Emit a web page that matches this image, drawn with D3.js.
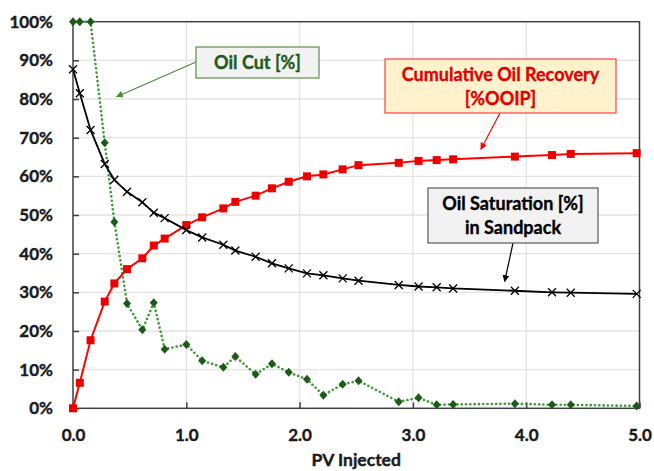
<!DOCTYPE html>
<html>
<head>
<meta charset="utf-8">
<script src="https://cdn.jsdelivr.net/npm/d3@7"></script>
<style>
  html, body { margin: 0; padding: 0; background: #fff; }
  svg { display: block; }
</style>
</head>
<body>
<div id="chart"></div>
<script>
// Oil cut, recovery and saturation vs pore volumes injected

const pvInjected = [0, 0.06, 0.155, 0.28, 0.365, 0.477, 0.612, 0.713, 0.809, 1.0, 1.14, 1.327, 1.433, 1.612,
  1.756, 1.904, 2.065, 2.21, 2.38, 2.52, 2.875, 3.05, 3.21, 3.355, 3.9, 4.228, 4.393, 4.975];
const oilSaturation = [87.7, 81.5, 72.0, 63.2, 59.1, 56.0, 53.3, 50.6, 49.2, 46.1, 44.2, 42.3, 40.8, 39.2,
  37.5, 36.2, 34.9, 34.4, 33.6, 33.0, 31.9, 31.5, 31.3, 31.0, 30.4, 30.0, 29.9, 29.6];
const cumRecovery = [0, 6.6, 17.6, 27.6, 32.3, 36.0, 38.8, 42.1, 43.9, 47.4, 49.4, 51.7, 53.4, 55.0,
  56.9, 58.6, 60.0, 60.5, 61.8, 62.9, 63.5, 64.0, 64.2, 64.4, 65.1, 65.5, 65.8, 66.0];
const oilCut = [100, 100, 100, 68.7, 48.2, 27.1, 20.3, 27.3, 15.3, 16.5, 12.3, 10.6, 13.4, 8.8,
  11.5, 9.3, 7.5, 3.4, 6.2, 7.1, 1.7, 2.7, 0.9, 1.0, 1.2, 0.9, 0.9, 0.6];

const xTicks = [0, 1, 2, 3, 4, 5];
const yTicks = [0, 10, 20, 30, 40, 50, 60, 70, 80, 90, 100];
const xTitle = "PV Injected";

const oilCutLabel = ["Oil Cut [%]"];
const recoveryLabel = ["Cumulative Oil Recovery", "[%OOIP]"];
const saturationLabel = ["Oil Saturation [%]", "in Sandpack"];

const W = 654, H = 471;
const FONT = "Lato, 'Open Sans', sans-serif";

const svg = d3.select("#chart").append("svg")
  .attr("width", W)
  .attr("height", H)
  .style("background", "#fff");

const x = d3.scaleLinear().domain([0, 5]).range([73, 639.5]);
const y = d3.scaleLinear().domain([0, 100]).range([408.3, 21.7]);

// grid
svg.append("g")
  .selectAll("line.gx")
  .data(xTicks.slice(1, -1))
  .join("line")
  .attr("x1", d => x(d)).attr("x2", d => x(d))
  .attr("y1", y(100)).attr("y2", y(0))
  .attr("stroke", "#e3e3e3").attr("stroke-width", 1.3);

svg.append("g")
  .selectAll("line.gy")
  .data(yTicks.slice(1, -1))
  .join("line")
  .attr("x1", x(0)).attr("x2", x(5))
  .attr("y1", d => y(d)).attr("y2", d => y(d))
  .attr("stroke", "#e3e3e3").attr("stroke-width", 1.3);

// axes
const yAxis = svg.append("g")
  .attr("transform", `translate(${x(0)},0)`)
  .call(d3.axisLeft(y).tickValues(yTicks).tickSize(-6).tickPadding(20).tickFormat(d => d + "%"));

const xAxis = svg.append("g")
  .attr("transform", `translate(0,${y(0)})`)
  .call(d3.axisBottom(x).tickValues(xTicks).tickSize(-6).tickPadding(21).tickFormat(d3.format(".1f")));

[yAxis, xAxis].forEach(ax => {
  ax.select(".domain").remove();
  ax.selectAll(".tick line").attr("stroke", "#404040").attr("stroke-width", 1.5);
  ax.selectAll("text")
    .attr("fill", "#1a1a1a")
    .attr("stroke", "#1a1a1a")
    .attr("stroke-width", 0.4)
    .style("font-family", FONT)
    .style("font-weight", "700")
    .style("font-size", "17px");
});

// frame
svg.append("rect")
  .attr("x", x(0)).attr("y", y(100))
  .attr("width", x(5) - x(0)).attr("height", y(0) - y(100))
  .attr("fill", "none")
  .attr("stroke", "#404040")
  .attr("stroke-width", 1.5);

svg.append("text")
  .attr("x", (x(0) + x(5)) / 2)
  .attr("y", 466)
  .attr("text-anchor", "middle")
  .style("font-family", FONT)
  .style("font-weight", "700")
  .style("font-size", "17.5px")
  .attr("fill", "#1a1a1a")
  .attr("stroke", "#1a1a1a")
  .attr("stroke-width", 0.4)
  .text(xTitle);

const line = d3.line().x(d => x(d[0])).y(d => y(d[1]));
const pairs = vals => pvInjected.map((p, i) => [p, vals[i]]);

// oil cut (dotted green, diamonds)
svg.append("path")
  .datum(pairs(oilCut))
  .attr("d", line)
  .attr("fill", "none")
  .attr("stroke", "#3f9a35")
  .attr("stroke-width", 2.6)
  .attr("stroke-linecap", "round")
  .attr("stroke-dasharray", "0.1 4.2");

svg.append("g")
  .selectAll("path")
  .data(pairs(oilCut))
  .join("path")
  .attr("transform", d => `translate(${x(d[0])},${y(d[1])})`)
  .attr("d", "M0,-4.5L4,0L0,4.5L-4,0Z")
  .attr("fill", "#1d5a1a");

// cumulative oil recovery (red, squares)
svg.append("path")
  .datum(pairs(cumRecovery))
  .attr("d", line)
  .attr("fill", "none")
  .attr("stroke", "#ff0000")
  .attr("stroke-width", 2);

svg.append("g")
  .selectAll("rect")
  .data(pairs(cumRecovery))
  .join("rect")
  .attr("x", d => x(d[0]) - 4)
  .attr("y", d => y(d[1]) - 4)
  .attr("width", 8).attr("height", 8)
  .attr("fill", "#ee0000");

// oil saturation (black, x markers)
svg.append("path")
  .datum(pairs(oilSaturation))
  .attr("d", line)
  .attr("fill", "none")
  .attr("stroke", "#000")
  .attr("stroke-width", 1.8);

svg.append("g")
  .selectAll("path")
  .data(pairs(oilSaturation))
  .join("path")
  .attr("transform", d => `translate(${x(d[0])},${y(d[1])})`)
  .attr("d", "M-4,-4L4,4M-4,4L4,-4")
  .attr("stroke", "#000")
  .attr("stroke-width", 1.3);

// annotations
const defs = svg.append("defs");
function arrowHead(id, color) {
  defs.append("marker")
    .attr("id", id)
    .attr("viewBox", "0 0 10 10")
    .attr("refX", 9).attr("refY", 5)
    .attr("markerWidth", 7).attr("markerHeight", 7)
    .attr("markerUnits", "userSpaceOnUse")
    .attr("orient", "auto")
    .append("path")
    .attr("d", "M0,0L10,5L0,10Z")
    .attr("fill", color);
}
arrowHead("ahGreen", "#4b8a3c");
arrowHead("ahRed", "#ff0000");
arrowHead("ahBlack", "#000");

function callout(box, lines, style, arrow) {
  svg.append("line")
    .attr("x1", arrow.x1).attr("y1", arrow.y1)
    .attr("x2", x(arrow.tx)).attr("y2", y(arrow.ty))
    .attr("stroke", style.arrow)
    .attr("stroke-width", 1.2)
    .attr("marker-end", `url(#${style.marker})`);

  svg.append("rect")
    .attr("x", box.x).attr("y", box.y)
    .attr("width", box.w).attr("height", box.h)
    .attr("fill", style.fill)
    .attr("stroke", style.stroke)
    .attr("stroke-width", 1.2);

  svg.append("g")
    .selectAll("text")
    .data(lines)
    .join("text")
    .attr("x", box.x + box.w / 2)
    .attr("y", (d, i) => box.base + i * 24)
    .attr("text-anchor", "middle")
    .style("font-family", FONT)
    .style("font-weight", "700")
    .style("font-size", "18px")
    .attr("fill", style.text)
    .attr("stroke", style.text)
    .attr("stroke-width", 0.35)
    .text(d => d);
}

callout({ x: 196, y: 47, w: 123, h: 31, base: 69 }, oilCutLabel,
  { fill: "#f2f2f2", stroke: "#5b8f4a", text: "#1f5c1c", arrow: "#4b8a3c", marker: "ahGreen" },
  { x1: 196, y1: 62, tx: 0.385, ty: 80.6 });

callout({ x: 385, y: 59, w: 231, h: 54, base: 81 }, recoveryLabel,
  { fill: "#fff2cc", stroke: "#ff4040", text: "#e00000", arrow: "#ff0000", marker: "ahRed" },
  { x1: 500, y1: 113, tx: 3.6, ty: 67.0 });

callout({ x: 428, y: 188, w: 170, h: 55, base: 210 }, saturationLabel,
  { fill: "#f2f2f2", stroke: "#595959", text: "#000", arrow: "#000", marker: "ahBlack" },
  { x1: 513, y1: 243, tx: 3.81, ty: 32.8 });
</script>
</body>
</html>
